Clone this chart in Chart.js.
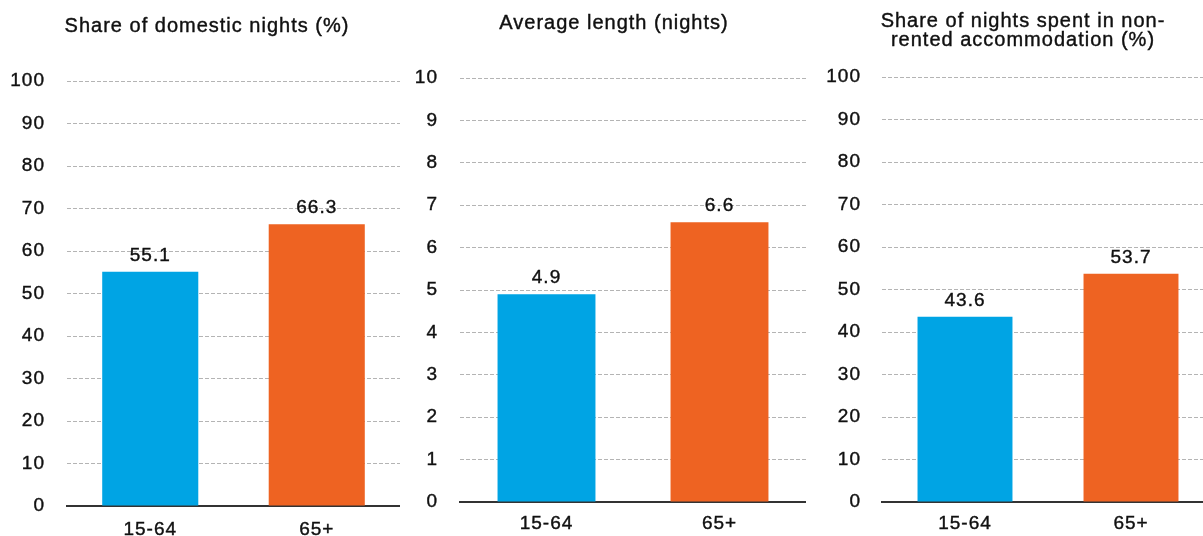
<!DOCTYPE html>
<html>
<head>
<meta charset="utf-8">
<script src="https://cdn.jsdelivr.net/npm/chart.js@4/dist/chart.umd.min.js"></script>
<style>
  html, body { margin: 0; padding: 0; background: #fff; width: 1203px; height: 536px; overflow: hidden; }
  .panel { position: absolute; top: 0; height: 536px; }
  canvas { display: block; }
  .title {
    position: absolute; text-align: center; white-space: nowrap;
    font-family: "Liberation Sans", Arial, sans-serif; font-size: 20px;
    letter-spacing: 1px; color: #101010; -webkit-text-stroke: 0.4px #101010;
  }
</style>
</head>
<body>
<div class="panel" style="left:0px;width:400px"><canvas id="c1" width="400" height="536"></canvas></div>
<div class="panel" style="left:410px;width:396px"><canvas id="c2" width="396" height="536"></canvas></div>
<div class="panel" style="left:820px;width:394px"><canvas id="c3" width="394" height="536"></canvas></div>
<div class="title" id="t1" style="left:57px;width:300px;top:13px;line-height:24px"></div>
<div class="title" id="t2" style="left:464px;width:300px;top:10px;line-height:24px"></div>
<div class="title" id="t3" style="left:873px;width:300px;top:11px;line-height:19px"></div>
<script>
// Age groups shown on every panel
const ageGroups = ['15-64', '65+'];

// Panel values
const shareDomesticNights = [55.1, 66.3];
const averageLengthNights = [4.9, 6.6];
const shareNonRentedNights = [43.6, 53.7];

// Panel titles
const titleDomestic = ['Share of domestic nights (%)'];
const titleLength = ['Average length (nights)'];
const titleNonRented = ['Share of nights spent in non-', 'rented accommodation (%)'];

// Axis ranges
const percentMax = 100, percentStep = 10;
const nightsMax = 10, nightsStep = 1;

const barColors = ['#00A4E4', '#EE6322'];
const textColor = '#101010';
const textStroke = 0.4;
const fontFamily = '"Liberation Sans", Arial, sans-serif';

// Titles are plain text above each panel
function setTitle(id, lines) {
  const el = document.getElementById(id);
  lines.forEach((line, i) => {
    if (i > 0) el.appendChild(document.createElement('br'));
    el.appendChild(document.createTextNode(line));
  });
}
setTitle('t1', titleDomestic);
setTitle('t2', titleLength);
setTitle('t3', titleNonRented);

// Slightly spaced lettering for all canvas text
const letterSpacingPlugin = {
  id: 'letterSpacing',
  beforeUpdate(chart) { chart.ctx.letterSpacing = '1px'; },
  beforeLayout(chart) { chart.ctx.letterSpacing = '1px'; },
  beforeDraw(chart) { chart.ctx.letterSpacing = '1px'; }
};

// Value written above each bar
const valueLabelPlugin = {
  id: 'valueLabels',
  afterDatasetsDraw(chart) {
    const ctx = chart.ctx;
    ctx.save();
    ctx.letterSpacing = '1px';
    ctx.font = '19px ' + fontFamily;
    ctx.fillStyle = textColor;
    ctx.strokeStyle = textColor;
    ctx.lineWidth = textStroke;
    ctx.textAlign = 'center';
    ctx.textBaseline = 'alphabetic';
    chart.data.datasets.forEach((ds, di) => {
      chart.getDatasetMeta(di).data.forEach((bar, i) => {
        const txt = ds.data[i].toFixed(1);
        ctx.strokeText(txt, bar.x, bar.y - 11);
        ctx.fillText(txt, bar.x, bar.y - 11);
      });
    });
    ctx.restore();
  }
};

function makePanel(id, values, max, step, cfg) {
  new Chart(document.getElementById(id), {
    type: 'bar',
    data: {
      labels: ageGroups,
      datasets: [{
        data: values,
        backgroundColor: barColors,
        borderWidth: 0,
        categoryPercentage: 1,
        barPercentage: cfg.barPct
      }]
    },
    options: {
      responsive: false,
      animation: false,
      events: [],
      layout: { padding: { left: 0, right: 0, top: cfg.top, bottom: 0 } },
      plugins: {
        legend: { display: false },
        tooltip: { enabled: false },
        title: { display: false }
      },
      scales: {
        x: {
          grid: { display: false, drawTicks: false },
          border: { display: true, color: '#333333', width: 2 },
          ticks: {
            color: textColor, padding: cfg.xPad,
            textStrokeColor: textColor, textStrokeWidth: textStroke,
            font: { family: fontFamily, size: 19 }
          },
          afterFit(scale) { scale.height = cfg.xHeight; }
        },
        y: {
          min: 0,
          max: max,
          grid: {
            drawTicks: false,
            lineWidth: 1,
            color: (c) => (c.tick && c.tick.value === 0) ? 'rgba(0,0,0,0)' : '#b4b4b4'
          },
          border: { display: false, dash: [4, 2] },
          ticks: {
            stepSize: step,
            color: textColor,
            padding: cfg.yPad,
            textStrokeColor: textColor, textStrokeWidth: textStroke,
            font: { family: fontFamily, size: 19 }
          },
          afterFit(scale) {
            scale.width = cfg.yWidth;
            // plot area edges are set by the layout padding and axis heights
            scale.paddingTop = 0;
            scale.paddingBottom = 0;
          }
        }
      }
    },
    plugins: [letterSpacingPlugin, valueLabelPlugin]
  });
}

makePanel('c1', shareDomesticNights, percentMax, percentStep,
  { barPct: 0.577, top: 81, xPad: 12, xHeight: 30, yPad: 22, yWidth: 67 });
makePanel('c2', averageLengthNights, nightsMax, nightsStep,
  { barPct: 0.566, top: 78, xPad: 10, xHeight: 34, yPad: 22, yWidth: 50 });
makePanel('c3', shareNonRentedNights, percentMax, percentStep,
  { barPct: 0.572, top: 77, xPad: 10, xHeight: 34, yPad: 21, yWidth: 62 });
</script>
</body>
</html>
